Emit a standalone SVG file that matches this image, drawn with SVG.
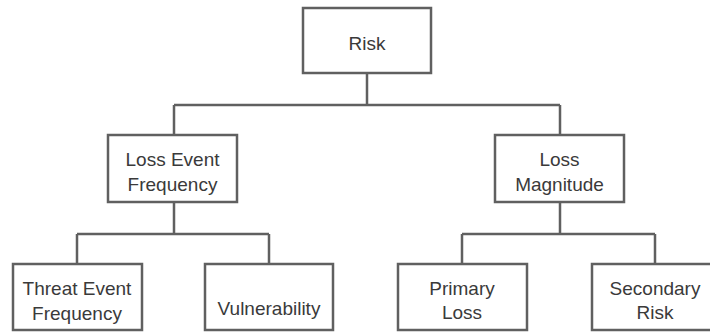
<svg xmlns="http://www.w3.org/2000/svg" width="710" height="332" viewBox="0 0 710 332">
<style>
.box{fill:#fff;stroke:#606060;stroke-width:2.5}
.ln{fill:none;stroke:#606060;stroke-width:2.5}
text{font-family:"Liberation Sans",Arial,sans-serif;font-size:19px;fill:#3a3a3a;text-anchor:middle}
</style>
<rect width="710" height="332" fill="#fff"/>
<g id="connectors">
<path class="ln" d="M367 73V105M174 105H560M174 105V135M560 105V135"/>
<path class="ln" d="M174 202V234M77 234H269M77 234V264M269 234V264"/>
<path class="ln" d="M560 202V234M462 234H655M462 234V264M655 234V264"/>
</g>
<g id="risk"><rect class="box" x="303" y="8" width="128" height="65"/><text x="367" y="50">Risk</text></g>
<g id="lef"><rect class="box" x="108" y="135" width="129" height="67"/><text x="172.5" y="165.5">Loss Event</text><text x="172.5" y="190.5">Frequency</text></g>
<g id="lm"><rect class="box" x="495" y="135" width="129" height="67"/><text x="559.5" y="165.5">Loss</text><text x="559.5" y="190.5">Magnitude</text></g>
<g id="tef"><rect class="box" x="13" y="264" width="129" height="66"/><text x="77" y="295">Threat Event</text><text x="77" y="320">Frequency</text></g>
<g id="vuln"><rect class="box" x="205" y="264" width="128" height="66"/><text x="269" y="315">Vulnerability</text></g>
<g id="pl"><rect class="box" x="398" y="264" width="129" height="66"/><text x="462" y="295">Primary</text><text x="462" y="319">Loss</text></g>
<g id="sr"><rect class="box" x="592" y="264" width="128" height="66"/><text x="655" y="295">Secondary</text><text x="655" y="319">Risk</text></g>
</svg>
